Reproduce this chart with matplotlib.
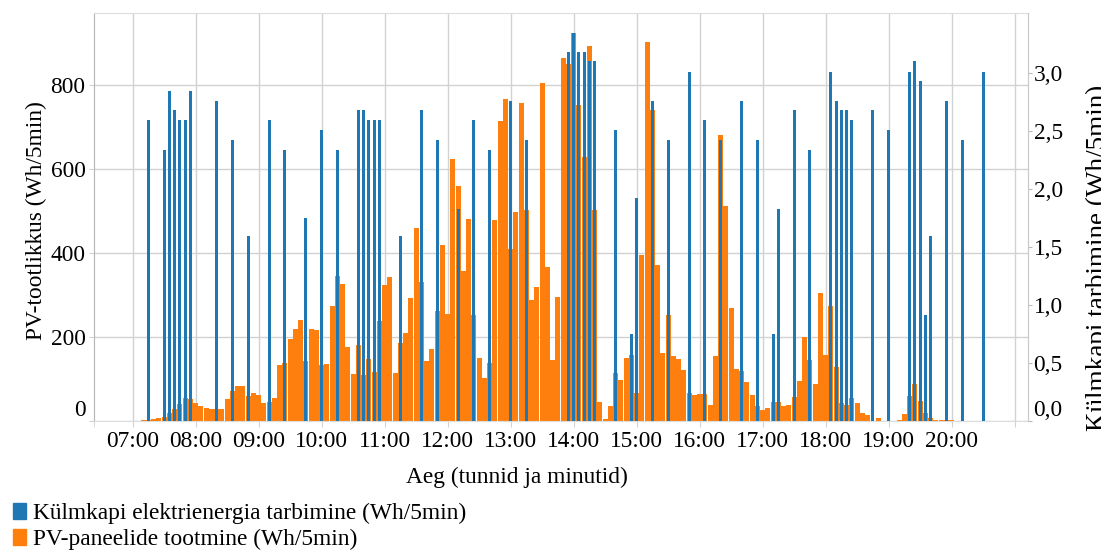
import matplotlib
matplotlib.use("Agg")
import matplotlib.pyplot as plt
from matplotlib.ticker import FixedLocator
from matplotlib.patches import Patch
import numpy as np

# ---------------- data ----------------
pv_start = "07:00"          # first 5-minute slot of the PV series
pv_step_min = 5
pv_values = [
    0, 1, 2, 2, 5, 7, 10, 18, 29, 40, 55, 52, 43, 36, 32, 29, 29, 29, 52, 71,
    83, 83, 60, 67, 62, 43, 45, 55, 133, 138, 195, 219, 240, 143, 219, 217, 133, 136, 274, 345,
    326, 176, 112, 181, 110, 148, 117, 238, 324, 343, 114, 186, 210, 293, 460, 331, 143, 171, 262, 419,
    255, 624, 560, 357, 481, 252, 150, 102, 138, 479, 714, 767, 410, 498, 757, 502, 288, 319, 805, 367,
    145, 295, 864, 850, 924, 752, 629, 893, 502, 45, 5, 36, 114, 98, 150, 157, 67, 395, 902, 741,
    371, 162, 252, 155, 148, 121, 67, 62, 64, 64, 38, 155, 681, 512, 269, 124, 119, 93, 62, 36,
    26, 31, 45, 45, 36, 38, 57, 95, 200, 145, 88, 305, 157, 274, 129, 43, 38, 55, 43, 19,
    14, 0, 7, 0, 0, 0, 2, 17, 60, 88, 48, 19, 7, 2, 2, 2, 2,
]

fridge_times = [
    "07:15", "07:30", "07:35", "07:40", "07:45", "07:50", "07:55", "08:20", "08:35", "08:50",
    "09:10", "09:25", "09:45", "10:00", "10:15", "10:35", "10:40", "10:45", "10:50", "10:55",
    "11:15", "11:35", "11:50", "12:10", "12:25", "12:40", "13:00", "13:15", "13:55", "14:00",
    "14:05", "14:10", "14:15", "14:20", "14:40", "14:55", "15:00", "15:15", "15:30", "15:50",
    "16:05", "16:20", "16:40", "16:55", "17:10", "17:15", "17:30", "17:45", "18:05", "18:10",
    "18:15", "18:20", "18:25", "18:45", "19:00", "19:20", "19:25", "19:30", "19:35", "19:40",
    "19:55", "20:10", "20:30",
]
fridge_values = [
    2.59, 2.33, 2.84, 2.68, 2.59, 2.59, 2.84, 2.76, 2.42, 1.59,
    2.59, 2.33, 1.75, 2.51, 2.33, 2.68, 2.68, 2.59, 2.59, 2.59,
    1.59, 2.68, 2.42, 1.83, 2.59, 2.33, 2.76, 2.42, 3.18, 3.34,
    3.18, 3.18, 3.10, 3.10, 2.51, 0.75, 1.92, 2.76, 2.42, 3.01,
    2.59, 2.42, 2.76, 2.42, 0.75, 1.83, 2.68, 2.33, 3.01, 2.76,
    2.68, 2.68, 2.59, 2.68, 2.51, 3.01, 3.10, 2.93, 0.91, 1.59,
    2.76, 2.42, 3.01,
]

x_tick_labels = ["07:00", "08:00", "09:00", "10:00", "11:00", "12:00", "13:00",
                 "14:00", "15:00", "16:00", "17:00", "18:00", "19:00", "20:00"]
left_ticks = [0, 200, 400, 600, 800]
right_ticks = [0.0, 0.5, 1.0, 1.5, 2.0, 2.5, 3.0]

series_labels = ["Külmkapi elektrienergia tarbimine (Wh/5min)",
                 "PV-paneelide tootmine (Wh/5min)"]
x_title = "Aeg (tunnid ja minutid)"
left_title = "PV-tootlikkus (Wh/5min)"
right_title = "Külmkapi tarbimine (Wh/5min)"


def to_hours(s):
    h, m = s.split(":")
    return int(h) + int(m) / 60.0


# ---------------- style ----------------
FS = 16.8
plt.rcParams["font.family"] = ["Liberation Serif", "DejaVu Serif"]
plt.rcParams["font.size"] = FS

BLUE = "#1f77b4"
ORANGE = "#ff7f0e"
GRID = "#d2d2d2"

W, H = 1101, 550
fig = plt.figure(figsize=(W / 100, H / 100), dpi=100)
L, R, T, B = 94, 1028, 13, 421
ax = fig.add_axes([L / W, 1 - B / H, (R - L) / W, (B - T) / H])
ax2 = ax.twinx()

slot = pv_step_min / 60.0
pv_x = to_hours(pv_start) + np.arange(len(pv_values)) * slot
ax.bar(pv_x, pv_values, width=0.95 * slot, color=ORANGE, linewidth=0, zorder=2)

fr_x = [to_hours(t) for t in fridge_times]
ax2.bar(fr_x, fridge_values, width=0.57 * slot, color=BLUE, linewidth=0, zorder=2)

ax.set_xlim(6.386, 21.211)
ax.set_ylim(0, 971.4)
ax2.set_ylim(0, 3.514)

hour_ticks = [to_hours(s) for s in x_tick_labels] + [21.0]
ax.xaxis.set_major_locator(FixedLocator(hour_ticks))
ax.set_xticklabels(x_tick_labels + [""])
ax.xaxis.set_minor_locator(FixedLocator([6.386]))

ax.yaxis.set_major_locator(FixedLocator(left_ticks))
ax.set_yticklabels([str(v) for v in left_ticks])
ax2.yaxis.set_major_locator(FixedLocator(right_ticks))
ax2.set_yticklabels([f"{v:.1f}".replace(".", ",") for v in right_ticks])

ax.grid(True, which="major", color=GRID, linewidth=1.0)
ax.set_axisbelow(True)

ax.tick_params(axis="x", which="both", length=4.3, color=GRID, pad=3.0, labelsize=FS)
ax.tick_params(axis="y", length=3.6, color=GRID, pad=2.5, labelsize=FS)
ax2.tick_params(axis="y", length=3.0, color="#bbbbbb", pad=1.0, labelsize=FS)

for sp in ["top", "bottom", "right"]:
    ax.spines[sp].set_color("#dddddd")
ax.spines["left"].set_color("#b5b5b5")
for sp in ["top", "bottom", "left"]:
    ax2.spines[sp].set_visible(False)
ax2.spines["right"].set_color("#c8c8c8")

# zero labels sit just above the baseline
ax.get_yticklabels()[0].set_verticalalignment("bottom")
ax2.get_yticklabels()[0].set_verticalalignment("bottom")

fig.text(517 / W, 1 - 477 / H, x_title, ha="center", va="center", fontsize=FS)
fig.text(36 / W, 1 - 221 / H, left_title, ha="center", va="center",
         rotation=90, fontsize=FS)
fig.text(1098 / W, 1 - 258 / H, right_title, ha="center", va="center",
         rotation=90, fontsize=19.5)

handles = [Patch(color=BLUE), Patch(color=ORANGE)]
fig.legend(handles, series_labels, loc="upper left",
           bbox_to_anchor=(13 / W, 1 - 503 / H), frameon=False,
           borderpad=0, borderaxespad=0, handlelength=0.55, handleheight=0.65,
           handletextpad=0.3, labelspacing=0.2, fontsize=FS)

fig.savefig("out.png", dpi=100)
